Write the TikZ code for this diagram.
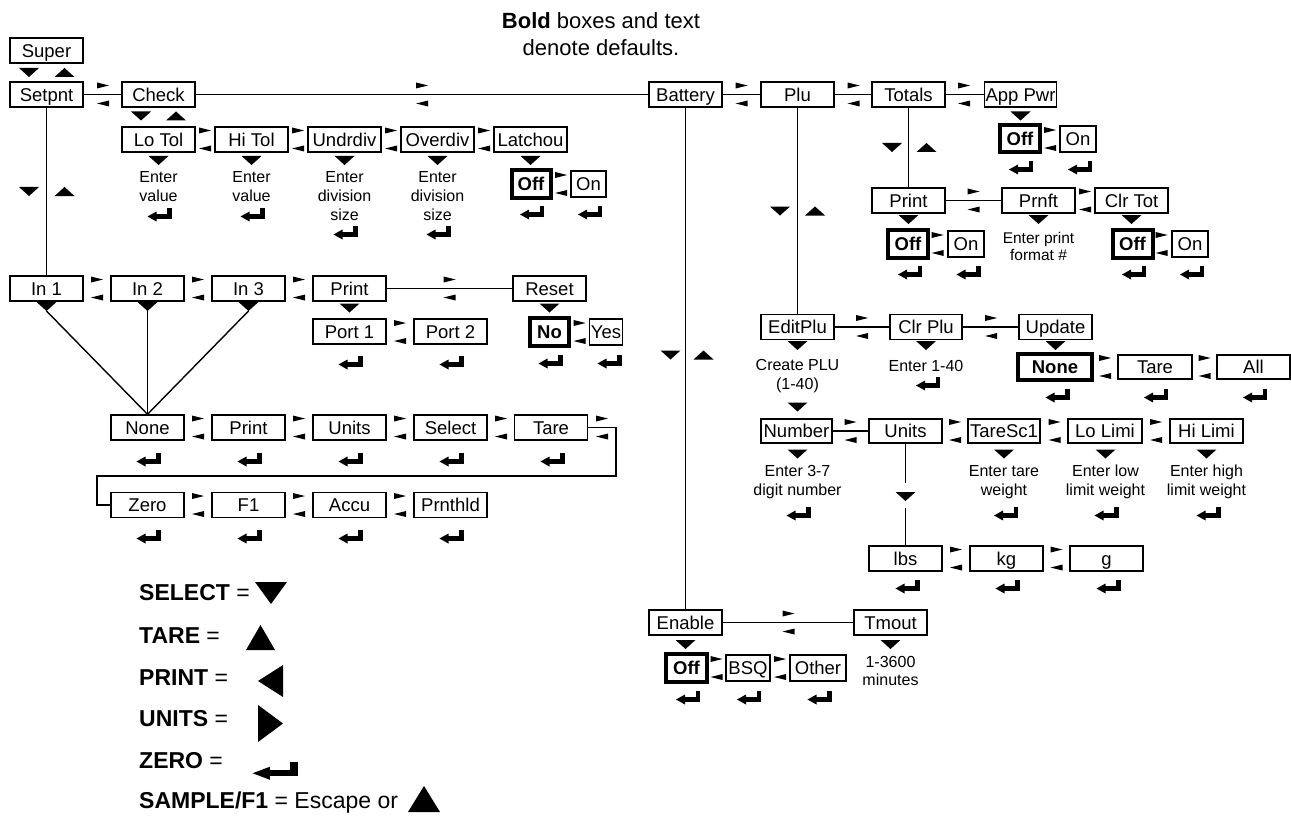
\documentclass[tikz,border=0pt]{standalone}
\usepackage{fontspec}
\setmainfont{Liberation Sans}
\usetikzlibrary{positioning}
\tikzset{
  box/.style={draw, line width=1.4pt, minimum width=73pt, minimum height=25pt, inner sep=0pt,
    text height=13.2pt, text depth=0pt, font=\fontsize{18.5}{18.5}\selectfont},
  dbox/.style={box, line width=4pt, font=\fontsize{18.5}{18.5}\selectfont\bfseries},
  offbox/.style={dbox, minimum width=40pt, minimum height=27pt},
  onbox/.style={box, minimum width=36pt, minimum height=26pt},
  subtext/.style={align=center, inner sep=0pt, font=\fontsize{16}{18.7}\selectfont},
  keytext/.style={anchor=west, inner sep=0pt, font=\fontsize{23}{23}\selectfont},
  link/.style={line width=1.4pt},
  tridown/.pic={\fill (-10,-4.5) -- (10,-4.5) -- (0,4.5) -- cycle;},
  triup/.pic={\fill (-10,4.5) -- (10,4.5) -- (0,-4.5) -- cycle;},
  lrmark/.pic={\fill (-6,-12) -- (6,-9) -- (-6,-6) -- cycle;
    \fill (6,6) -- (-6,9) -- (6,12) -- cycle;},
  retmark/.pic={\fill (-12,2.5) -- (-3,-2.5) -- (-3,7.5) -- cycle;
    \fill (-4,0.3) rectangle (12,4.7);
    \fill (7.5,-6) rectangle (12,4.7);}
}
\begin{document}
\begin{tikzpicture}[x=1pt,y=-1pt]
\useasboundingbox (0,0) rectangle (1291,832);

\node[align=center, font=\fontsize{22}{27}\selectfont] (defaults) at (601,34) {\textbf{Bold} boxes and text\\denote defaults.};

\node[box] (super) at (46.5,50.5) {Super};
\node[box] (setpnt) at (46.5,94.5) {Setpnt};
\node[box] (check) at (158.5,94.5) {Check};
\node[box] (battery) at (685.5,94.5) {Battery};
\node[box] (plu) at (797.5,94.5) {Plu};
\node[box] (totals) at (908.5,94.5) {Totals};
\node[box, minimum width=72pt] (apppwr) at (1020.5,94.5) {App Pwr};

\node[box] (lotol) at (158.5,139.5) {Lo Tol};
\node[box] (hitol) at (251.5,139.5) {Hi Tol};
\node[box] (undrdiv) at (344.5,139.5) {Undrdiv};
\node[box] (overdiv) at (437.5,139.5) {Overdiv};
\node[box] (latchou) at (530.5,139.5) {Latchou};
\node[offbox, minimum width=39pt] (latoff) at (531,184) {Off};
\node[onbox, minimum width=35pt] (laton) at (588.5,184) {On};
\node[subtext] (lotolv) at (158.5,186.5) {Enter\\value};
\node[subtext] (hitolv) at (251.5,186.5) {Enter\\value};
\node[subtext] (undrdivv) at (344.5,196) {Enter\\division\\size};
\node[subtext] (overdivv) at (437.5,196) {Enter\\division\\size};

\node[offbox] (apoff) at (1020,139) {Off};
\node[onbox] (apon) at (1078,139) {On};

\node[box] (print3) at (908.5,200.5) {Print};
\node[box] (prnft) at (1038.5,200.5) {Prnft};
\node[box] (clrtot) at (1131.5,200.5) {Clr Tot};
\node[offbox, minimum height=28pt] (p3off) at (908,244) {Off};
\node[onbox] (p3on) at (966,244) {On};
\node[offbox, minimum height=28pt] (ctoff) at (1132.5,244) {Off};
\node[onbox] (cton) at (1190,244) {On};
\node[subtext, font=\fontsize{15.5}{17}\selectfont] (prnftv) at (1038.5,246) {Enter print\\format \#};

\node[box] (in1) at (46.5,288.5) {In 1};
\node[box] (in2) at (147.5,288.5) {In 2};
\node[box] (in3) at (248.5,288.5) {In 3};
\node[box] (print1) at (349.5,288.5) {Print};
\node[box] (reset) at (549.5,288.5) {Reset};
\node[box] (port1) at (349.5,331.5) {Port 1};
\node[box] (port2) at (450.5,331.5) {Port 2};
\node[offbox, minimum width=39pt, minimum height=28pt] (no) at (549.5,332) {No};
\node[onbox, minimum width=33pt] (yes) at (606,332) {Yes};

\node[box] (none1) at (147.5,427.5) {None};
\node[box] (print2) at (248.5,427.5) {Print};
\node[box] (units1) at (349.5,427.5) {Units};
\node[box] (select) at (450.5,427.5) {Select};
\node[box] (tare1) at (551,427.5) {Tare};
\node[box] (zero) at (147.5,505) {Zero};
\node[box] (f1) at (248.5,505) {F1};
\node[box] (accu) at (349.5,505) {Accu};
\node[box] (prnthld) at (450.5,505) {Prnthld};

\node[box] (editplu) at (797.5,327) {EditPlu};
\node[box, minimum width=72pt] (clrplu) at (926,327) {Clr Plu};
\node[box] (update) at (1055.5,327) {Update};
\node[subtext] (editpluv) at (797.5,376) {Create PLU\\(1-40)};
\node[subtext] (clrpluv) at (926,366) {Enter 1-40};
\node[dbox, minimum width=74pt, minimum height=26pt] (upnone) at (1055,367) {None};
\node[box, minimum width=74pt, minimum height=24pt] (uptare) at (1155,367) {Tare};
\node[box, minimum height=24pt] (upall) at (1253.5,367) {All};

\node[box, minimum width=71pt, minimum height=24pt] (number) at (796.5,431) {Number};
\node[box, minimum height=24pt] (units2) at (905.5,431) {Units};
\node[box, minimum width=72pt, minimum height=24pt] (taresc1) at (1004,431) {TareSc1};
\node[box, minimum width=74pt, minimum height=24pt] (lolimi) at (1105,431) {Lo Limi};
\node[box, minimum height=24pt] (hilimi) at (1206.5,431) {Hi Limi};
\node[subtext] (numberv) at (797.5,482) {Enter 3-7\\digit number};
\node[subtext] (taresc1v) at (1004,482) {Enter tare\\weight};
\node[subtext] (lolimiv) at (1105.5,482) {Enter low\\limit weight};
\node[subtext] (hilimiv) at (1206.5,482) {Enter high\\limit weight};
\node[box] (lbs) at (905.5,558.5) {lbs};
\node[box] (kg) at (1006.5,558.5) {kg};
\node[box] (g) at (1106.5,558.5) {g};

\node[box] (enable) at (685.5,622.5) {Enable};
\node[box] (tmout) at (890.5,622.5) {Tmout};
\node[offbox, minimum width=41pt, minimum height=28pt] (enoff) at (686.5,668) {Off};
\node[onbox, minimum width=44pt] (bsq) at (748,668) {BSQ};
\node[onbox, minimum width=56pt] (other) at (818,668) {Other};
\node[subtext] (tmoutv) at (890.5,671) {1-3600\\minutes};

\coordinate (t1) at (46.5,311);
\coordinate (t2) at (147.5,311);
\coordinate (t3) at (248.5,311);
\coordinate (wrap) at (616,476);
\coordinate (wrapz) at (97,505);
\coordinate (u1) at (905.5,483);
\coordinate (u2) at (905.5,508);

\draw[link] (setpnt) -- (check);
\draw[link] (check) -- (battery);
\draw[link] (battery) -- (plu);
\draw[link] (plu) -- (totals);
\draw[link] (totals) -- (apppwr);
\draw[link] (setpnt) -- (in1);
\draw[link] (print1) -- (reset);
\draw[link] (t1) -- (none1.north);
\draw[link] (t2) -- (none1.north);
\draw[link] (t3) -- (none1.north);
\draw[link] (tare1.east) -| (wrap) -| (wrapz) -- (zero.west);
\draw[link] (battery) -- (enable);
\draw[link] (plu) -- (editplu);
\draw[link] (totals) -- (print3);
\draw[link] (print3) -- (prnft);
\draw[link] (editplu) -- (clrplu);
\draw[link] (clrplu) -- (update);
\draw[link] (number) -- (units2);
\draw[link] (units2) -- (u1);
\draw[link] (u2) -- (lbs);
\draw[link] (enable) -- (tmout);

\foreach \x/\y in {29/72.5, 141/116, 29/191.5, 158.5/160.5, 251.5/160.5, 344.5/160.5,
  437.5/160.5, 530.5/160.5, 46.5/306.5, 147.5/306.5, 248.5/306.5, 349.5/308, 549.5/308,
  670.5/355, 780/211, 892/147.5, 1020.5/116, 908.5/219.5, 1038.5/219.5, 1131.5/219.5,
  797.5/345.5, 926/345.5, 1055.5/345.5, 797.5/407, 797.5/454, 1004/454, 1105.5/454,
  1206.5/454, 905.5/496.5, 685.5/644.5, 890.5/644.5}
  \pic at (\x,\y) {tridown};
\foreach \x/\y in {64.5/72.5, 176/116, 64.5/191.5, 703.5/355, 815/211, 926.5/147.5}
  \pic at (\x,\y) {triup};

\foreach \x/\y in {103/94.5, 422/94.5, 741.5/94.5, 853.5/94.5, 964/94.5,
  205/139.5, 298/139.5, 391/139.5, 484/139.5, 561/184, 1050/139,
  97/288.5, 198/288.5, 299/288.5, 449.5/288.5, 400/332, 579.5/332,
  198/427.5, 299/427.5, 400/427.5, 501/427.5, 602/427.5, 198/505, 299/505, 400/505,
  973.5/200.5, 1085/200.5, 937.5/244, 1161.5/244, 862/327, 991/327, 1105/367, 1204.5/367,
  850.5/431, 955/431, 1054.5/431, 1156/431, 956/558.5, 1056.5/558.5,
  788.5/622.5, 716.5/668, 780/668}
  \pic at (\x,\y) {lrmark};

\foreach \x/\y in {159.5/214, 252.5/214, 345.5/232, 438.5/232, 532/212, 590/212,
  350.5/362, 451.5/362, 550.5/361, 609.5/361,
  148.5/459, 249.5/459, 350.5/459, 451.5/459, 552.5/459,
  148.5/536, 249.5/536, 350.5/536, 451.5/536,
  1021/167, 1080/167, 910/272, 968.5/272, 1134/272, 1192/272, 928/383,
  1057.5/395, 1156/395, 1255/395, 798.5/513, 1006/513, 1106.5/513, 1208.5/513,
  907.5/586, 1007.5/586, 1108.5/586, 688/697, 749/697, 819.5/697}
  \pic at (\x,\y) {retmark};

\node[keytext] (keyselect) at (139,593) {\textbf{SELECT} =};
\node[keytext] (keytare) at (139,636) {\textbf{TARE} =};
\node[keytext] (keyprint) at (139,678) {\textbf{PRINT} =};
\node[keytext] (keyunits) at (139,719) {\textbf{UNITS} =};
\node[keytext] (keyzero) at (139,761) {\textbf{ZERO} =};
\node[keytext] (keysample) at (139,803) {\textbf{SAMPLE/F1} = Escape or};
\fill (255,582) -- (287,582) -- (271,604) -- cycle;
\fill (246,650) -- (275,650) -- (260.5,625) -- cycle;
\fill (283,665) -- (283,697) -- (258,681) -- cycle;
\fill (258,705) -- (258,742) -- (283,723.5) -- cycle;
\pic[xscale=1.9, yscale=1.3] at (275.5,770) {retmark};
\fill (408,812) -- (440,812) -- (424,786) -- cycle;
\end{tikzpicture}
\end{document}
